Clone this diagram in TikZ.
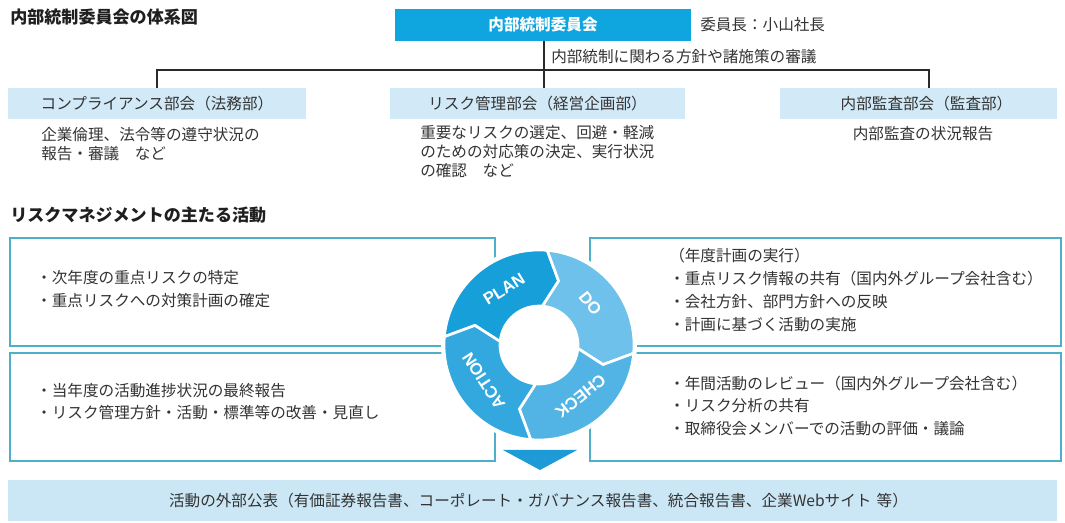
\documentclass[tikz,border=0pt]{standalone}
\usepackage{fontspec}
\setmainfont{Noto Sans CJK JP}
\newfontfamily\lblfont{Liberation Sans}
\definecolor{topcyan}{HTML}{0FA5DE}
\definecolor{subblue}{HTML}{D2E9F7}
\definecolor{boxline}{HTML}{4DB0C8}
\definecolor{tricol}{HTML}{1E9AD6}
\definecolor{bandblue}{HTML}{CBE6F5}
\definecolor{cplan}{HTML}{179FD9}
\definecolor{cdo}{HTML}{6EC1EA}
\definecolor{ccheck}{HTML}{52B4E5}
\definecolor{caction}{HTML}{32A8DE}
\definecolor{textgray}{HTML}{333333}
\definecolor{linegray}{HTML}{2A2A2A}
\newcommand\ringseg[2]{%
  \filldraw[fill=#2, draw=white, line width=2pt]
    (#1:\RR) -- ({#1-\TT}:\MM) -- (#1:\rr)
    arc[start angle=#1, end angle=#1-90, radius=\rr]
    -- ({#1-90-\TT}:\MM) -- ({#1-90}:\RR)
    arc[start angle=#1-90, end angle=#1, radius=\RR] -- cycle;}
\begin{document}
\begin{tikzpicture}[x=0.75pt,y=-0.75pt,
  txt/.style={inner sep=0pt, text=textgray, font=\fontsize{11.7}{14}\selectfont},
  ltxt/.style={txt, anchor=west},
  ttl/.style={inner sep=0pt, anchor=west, text=black!88, font=\bfseries\fontsize{12.8}{15}\selectfont},
  subbox/.style={txt, fill=subblue, minimum height=31*0.75pt},
  actbox/.style={draw=boxline, line width=0.9pt, fill=white, minimum width=#1*0.75pt, minimum height=108*0.75pt, inner sep=0pt},
  conn/.style={draw=linegray, line width=1pt},
  ringlbl/.style={inner sep=0pt, text=white, font=\lblfont\bfseries\fontsize{12.5}{14}\selectfont}
]
\useasboundingbox (0,0) rectangle (1065,523);

% ---------- top section ----------
\node[ttl] (title1) at (10,17) {内部統制委員会の体系図};
\node[fill=topcyan, minimum width=296*0.75pt, minimum height=32*0.75pt, inner sep=0pt,
      text=white, font=\bfseries\fontsize{11.7}{14}\selectfont] (top) at (543,25) {内部統制委員会};
\node[ltxt] (chair) at (700,25) {委員長：小山社長};
\node[ltxt] (mandate) at (551,57) {内部統制に関わる方針や諸施策の審議};

\node[subbox, minimum width=298*0.75pt] (lbox) at (157,103.5) {コンプライアンス部会（法務部）};
\node[subbox, minimum width=295*0.75pt] (mbox) at (537.5,103.5) {リスク管理部会（経営企画部）};
\node[subbox, minimum width=277*0.75pt, text width=277*0.75pt, align=center] (rbox) at (918.5,103.5) {\hspace*{12pt}内部監査部会（監査部）};

\coordinate (jL) at (157,70);
\coordinate (jR) at (929,70);
\draw[conn] (jL |- lbox.north) -- (jL) -- (jR) -- (jR |- rbox.north);
\draw[conn] (top.south -| 544,0) -- (mbox.north -| 544,0);

\node[ltxt] (ld1) at (41,135) {企業倫理、法令等の遵守状況の};
\node[ltxt] (ld2) at (41,154) {報告・審議　など};
\node[ltxt] (md1) at (420,133) {重要なリスクの選定、回避・軽減};
\node[ltxt] (md2) at (420,152) {のための対応策の決定、実行状況};
\node[ltxt] (md3) at (420,171) {の確認　など};
\node[txt] (rd1) at (923,134) {内部監査の状況報告};

% ---------- lower section ----------
\node[ttl] (title2) at (10,215) {リスクマネジメントの主たる活動};

\node[actbox=485] (planbox) at (252.5,292) {};
\node[actbox=485] (actbox) at (252.5,407) {};
\node[actbox=471] (dobox) at (825.5,292) {};
\node[actbox=471] (chkbox) at (825.5,407) {};

\node[ltxt] (p1) at (36,278) {・次年度の重点リスクの特定};
\node[ltxt] (p2) at (36,301) {・重点リスクへの対策計画の確定};
\node[ltxt] (a1) at (36,391) {・当年度の活動進捗状況の最終報告};
\node[ltxt] (a2) at (36,413) {・リスク管理方針・活動・標準等の改善・見直し};
\node[ltxt] (d0) at (669,256) {（年度計画の実行）};
\node[ltxt] (d1) at (669,279) {・重点リスク情報の共有（国内外グループ会社含む）};
\node[ltxt] (d2) at (669,302) {・会社方針、部門方針への反映};
\node[ltxt] (d3) at (669,325) {・計画に基づく活動の実施};
\node[ltxt] (c1) at (669,384) {・年間活動のレビュー（国内外グループ会社含む）};
\node[ltxt] (c2) at (669,406) {・リスク分析の共有};
\node[ltxt] (c3) at (669,429) {・取締役会メンバーでの活動の評価・議論};

% ---------- PDCA ring ----------
\begin{scope}[shift={(539,345)}, x=0.75pt, y=0.75pt]
  \def\RR{95}\def\rr{39}\def\MM{67}\def\TT{12}
  \fill[white] (0,0) circle[radius=98];
  \ringseg{175}{cplan}
  \ringseg{85}{cdo}
  \ringseg{-5}{ccheck}
  \ringseg{-95}{caction}
  \node[ringlbl, rotate=32] (plan) at (122:66) {PLAN};
  \node[ringlbl, rotate=-51] (do) at (39:66) {DO};
  \node[ringlbl, rotate=-141] (check) at (-51:66) {CHECK};
  \node[ringlbl, rotate=123] (action) at (213:66) {ACTION};
\end{scope}

% ---------- arrow and band ----------
\coordinate (tl) at (503,450);
\coordinate (tr) at (577,450);
\coordinate (tb) at (540,470);
\fill[tricol] (tl) -- (tr) -- (tb) -- cycle;

\node[txt, fill=bandblue, minimum width=1049*0.75pt, minimum height=41*0.75pt, text width=1049*0.75pt, align=center] (band) at (532.5,500.5)
  {\hspace*{9pt}活動の外部公表（有価証券報告書、コーポレート・ガバナンス報告書、統合報告書、企業Webサイト 等）};
\end{tikzpicture}
\end{document}
